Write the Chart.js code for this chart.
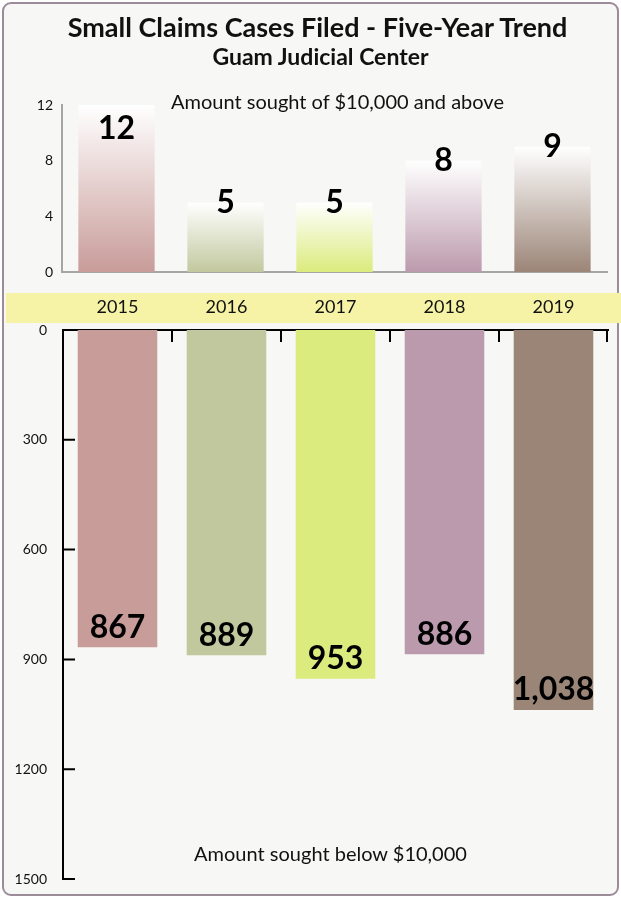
<!DOCTYPE html>
<html>
<head>
<meta charset="utf-8">
<script src="https://cdn.jsdelivr.net/npm/chart.js@4"></script>
<style>
  body { margin: 0; background: #fff; font-family: Lato, sans-serif; }
  #frame { position: absolute; left: 2px; top: 2px; width: 617px; height: 894px; box-sizing: border-box;
    border: 2px solid #9c8c99; border-radius: 9px; background: #f7f7f5; }
  canvas { position: absolute; left: 0; }
  .txt { position: absolute; left: 0; width: 621px; text-align: center; color: #111; z-index: 2; white-space: nowrap; }
</style>
</head>
<body>
<div id="frame"></div>
<canvas id="topChart" width="621" height="285" style="top:0"></canvas>
<canvas id="bottomChart" width="621" height="618" style="top:280px"></canvas>
<div class="txt" style="top:10px;font-size:27px;font-weight:bold;left:7px">Small Claims Cases Filed - Five-Year Trend</div>
<div class="txt" style="top:42px;font-size:23px;font-weight:bold;left:10px">Guam Judicial Center</div>
<div class="txt" style="top:89px;font-size:20px;left:27px">Amount sought of $10,000 and above</div>
<div class="txt" style="top:841px;font-size:20px;left:20px">Amount sought below $10,000</div>
<script>
const years = ['2015', '2016', '2017', '2018', '2019']
const above10k = [12, 5, 5, 8, 9]
const below10k = [867, 889, 953, 886, 1038]
const barColors = ['#c89c99', '#c2c89e', '#dbeb7d', '#bc9aad', '#9b8577']

// big bold numbers on the bars
const valueLabels = {
	id: 'valueLabels',
	afterDatasetsDraw(chart, args, opts) {
		const ctx = chart.ctx
		const meta = chart.getDatasetMeta(0)
		ctx.save()
		ctx.font = 'bold 32px Lato'
		ctx.fillStyle = '#000'
		ctx.textAlign = 'center'
		ctx.textBaseline = 'middle'
		meta.data.forEach((bar, i) => {
			const v = chart.data.datasets[0].data[i]
			let y
			if (opts.mode === 'top') y = Math.max(bar.y, chart.chartArea.top + 24)
			else y = bar.y - 20
			ctx.fillText(v.toLocaleString('en-US'), bar.x, y)
		})
		ctx.restore()
	}
}

function gradientFill(c) {
	const chart = c.chart
	const color = barColors[c.dataIndex]
	if (!chart.chartArea || !chart.scales.y) return color
	const y = chart.scales.y.getPixelForValue(c.raw)
	const g = chart.ctx.createLinearGradient(0, y, 0, chart.chartArea.bottom)
	g.addColorStop(0, '#ffffff')
	g.addColorStop(1, color)
	return g
}

// fixed axis width, no extra room for the end labels
function fixY(w) {
	return s => { s.width = w; s.paddingTop = 0; s.paddingBottom = 0 }
}

new Chart(document.getElementById('topChart'), {
	type: 'bar',
	data: {
		labels: years,
		datasets: [{
			data: above10k,
			backgroundColor: gradientFill,
			barPercentage: 0.7,
			categoryPercentage: 1,
		}]
	},
	options: {
		responsive: false,
		animation: false,
		layout: { padding: { top: 105, right: 14, bottom: 13, left: 0 } },
		plugins: { legend: { display: false }, tooltip: { enabled: false }, valueLabels: { mode: 'top' } },
		scales: {
			x: {
				grid: { display: false, drawTicks: false },
				ticks: { display: false },
				border: { color: '#a5a5a5', width: 2 },
			},
			y: {
				min: 0, max: 12,
				afterFit: fixY(62),
				grid: { display: false, drawTicks: false },
				border: { color: '#a5a5a5', width: 2 },
				ticks: { stepSize: 4, padding: 9, color: '#111', font: { family: 'Lato', size: 14 } },
			}
		}
	},
	plugins: [valueLabels]
})

const band = {
	id: 'band',
	beforeDraw(chart) {
		const ctx = chart.ctx
		ctx.save()
		ctx.fillStyle = '#f7f3a6'
		ctx.fillRect(6, 13, 615, 30)
		ctx.restore()
	}
}

// tick marks pointing into the plot
const innerTicks = {
	id: 'innerTicks',
	afterDraw(chart) {
		const ctx = chart.ctx
		const { left, right, top } = chart.chartArea
		const ys = chart.scales.y
		ctx.save()
		ctx.strokeStyle = '#000'
		ctx.lineWidth = 2
		ctx.beginPath()
		ys.ticks.forEach(t => {
			if (t.value === 0) return
			const y = ys.getPixelForValue(t.value)
			ctx.moveTo(left, y)
			ctx.lineTo(left + 12, y)
		})
		const step = (right - left) / years.length
		for (let i = 1; i <= years.length; i++) {
			const x = Math.min(left + i * step, right - 1)
			ctx.moveTo(x, top)
			ctx.lineTo(x, top + 12)
		}
		ctx.stroke()
		ctx.restore()
	}
}

new Chart(document.getElementById('bottomChart'), {
	type: 'bar',
	data: {
		labels: years,
		datasets: [{
			data: below10k,
			backgroundColor: barColors,
			barPercentage: 0.73,
			categoryPercentage: 1,
		}]
	},
	options: {
		responsive: false,
		animation: false,
		layout: { padding: { top: 0, right: 13, bottom: 19, left: 0 } },
		plugins: { legend: { display: false }, tooltip: { enabled: false }, valueLabels: { mode: 'bottom' } },
		scales: {
			x: {
				position: 'top',
				afterFit(s) { s.height = 50 },
				grid: { display: false, drawTicks: false },
				border: { color: '#000', width: 2 },
				ticks: { padding: 12, color: '#111', font: { family: 'Lato', size: 18 } },
			},
			y: {
				min: 0, max: 1500, reverse: true,
				afterFit: fixY(63),
				grid: { display: false, drawTicks: false },
				border: { color: '#000', width: 2 },
				ticks: { stepSize: 300, padding: 16, color: '#111', font: { family: 'Lato', size: 14 },
					callback: v => String(v) },
			}
		}
	},
	plugins: [band, innerTicks, valueLabels]
})
</script>
</body>
</html>
